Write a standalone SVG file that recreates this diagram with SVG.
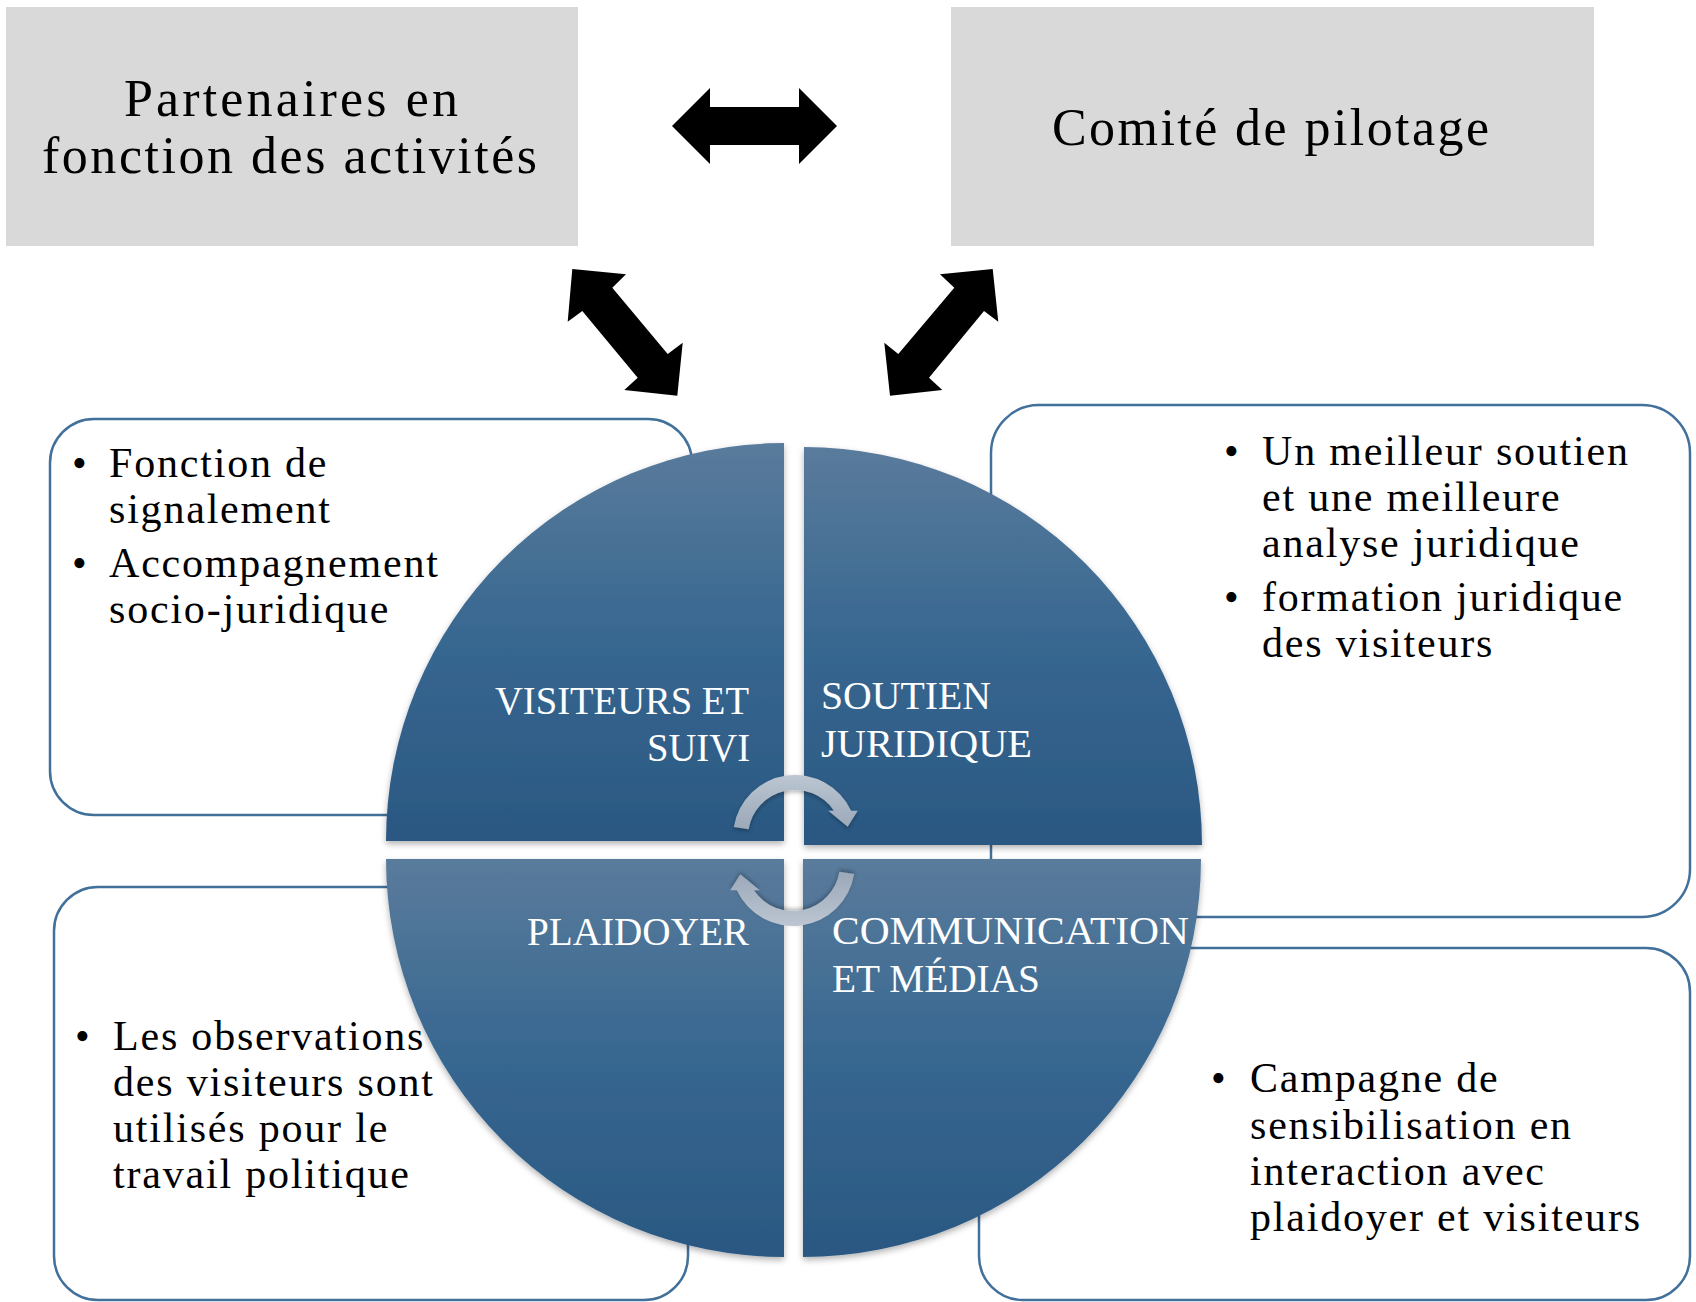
<svg xmlns="http://www.w3.org/2000/svg" width="1696" height="1302" viewBox="0 0 1696 1302">
<style>
.gray{fill:#d9d9d9}
.title{font-family:"Liberation Serif","Times New Roman",serif;font-size:52px;fill:#000}
.box{fill:#fff;stroke:#41709b;stroke-width:2.5}
.bt{font-family:"Liberation Serif","Times New Roman",serif;font-size:42px;letter-spacing:1.8px;fill:#000}
.pie{filter:url(#sh)}
.lbl{font-family:"Liberation Serif","Times New Roman",serif;font-size:40px;fill:#fff}
.arr{fill:#000}
.carr{fill:url(#cg);filter:url(#sh2)}
</style>
<defs>
<linearGradient id="qg" x1="0" y1="0" x2="0" y2="1">
<stop offset="0" stop-color="#5a7b9c"/>
<stop offset="0.5" stop-color="#376790"/>
<stop offset="1" stop-color="#2a5882"/>
</linearGradient>
<linearGradient id="cg" x1="0" y1="0" x2="0" y2="1">
<stop offset="0" stop-color="#bcc6d2"/>
<stop offset="1" stop-color="#9ba8b8"/>
</linearGradient>
<filter id="sh" x="-10%" y="-10%" width="120%" height="120%">
<feDropShadow dx="0" dy="3" stdDeviation="3" flood-color="#000" flood-opacity="0.3"/>
</filter>
<filter id="sh2" x="-20%" y="-20%" width="140%" height="140%">
<feDropShadow dx="0" dy="2" stdDeviation="2" flood-color="#000" flood-opacity="0.3"/>
</filter>
<path id="circArrow" d="M-61.17,-10.12 A62,62 0 0 1 56.15,-26.3 L62.7,-26.3 L52.7,-10.3 L33.3,-26.3 L38.95,-26.3 A47,47 0 0 0 -46.37,-7.68 Z"/>
</defs>
<rect width="1696" height="1302" fill="#fff"/>

<g id="partenaires">
<rect class="gray" x="6" y="7" width="572" height="239"/>
<text class="title" x="124" y="116" textLength="334" lengthAdjust="spacing">Partenaires en</text>
<text class="title" x="42" y="173" textLength="495" lengthAdjust="spacing">fonction des activités</text>
</g>

<g id="comite">
<rect class="gray" x="951" y="7" width="643" height="239"/>
<text class="title" x="1052" y="145" textLength="437" lengthAdjust="spacing">Comité de pilotage</text>
</g>

<g id="box-visiteurs">
<rect class="box" x="50" y="419" width="642" height="396" rx="44" ry="44"/>
<text class="bt" x="72" y="477">•</text>
<text class="bt" x="109" y="477">Fonction de</text>
<text class="bt" x="109" y="523">signalement</text>
<text class="bt" x="72" y="577">•</text>
<text class="bt" x="109" y="577">Accompagnement</text>
<text class="bt" x="109" y="623">socio-juridique</text>
</g>

<g id="box-soutien">
<rect class="box" x="991" y="405" width="699" height="512" rx="48" ry="48"/>
<text class="bt" x="1224" y="465">•</text>
<text class="bt" x="1262" y="465">Un meilleur soutien</text>
<text class="bt" x="1262" y="511">et une meilleure</text>
<text class="bt" x="1262" y="557">analyse juridique</text>
<text class="bt" x="1224" y="611">•</text>
<text class="bt" x="1262" y="611">formation juridique</text>
<text class="bt" x="1262" y="657">des visiteurs</text>
</g>

<g id="box-plaidoyer">
<rect class="box" x="54" y="887" width="634" height="413" rx="44" ry="44"/>
<text class="bt" x="75" y="1050">•</text>
<text class="bt" x="113" y="1050">Les observations</text>
<text class="bt" x="113" y="1096">des visiteurs sont</text>
<text class="bt" x="113" y="1142">utilisés pour le</text>
<text class="bt" x="113" y="1188">travail politique</text>
</g>

<g id="box-communication">
<rect class="box" x="979" y="948" width="711" height="352" rx="44" ry="44"/>
<text class="bt" x="1211" y="1092">•</text>
<text class="bt" x="1250" y="1092">Campagne de</text>
<text class="bt" x="1250" y="1139">sensibilisation en</text>
<text class="bt" x="1250" y="1185">interaction avec</text>
<text class="bt" x="1250" y="1231">plaidoyer et visiteurs</text>
</g>

<g id="connectors">
<polygon class="arr" points="672,126 710,88 710,107 799,107 799,88 837,126 799,164 799,145 710,145 710,164"/>
<polygon class="arr" points="572.3,269 626,274.3 612.3,287.7 667.7,354 682.7,342.7 677.3,395.7 624.3,390 637.7,377.7 582.3,311 567.7,321.7"/>
<polygon class="arr" points="992.7,269 940,274.3 954.3,287.7 898.3,354 884.3,342.7 890,395.7 942.3,390 929,377.7 984,311 998.3,321.7"/>
</g>

<g id="q-visiteurs">
<path class="pie" fill="url(#qg)" d="M784,841 L386,841 A398,398 0 0 1 784,443 Z"/>
<text class="lbl" x="495" y="714" textLength="254" lengthAdjust="spacingAndGlyphs">VISITEURS ET</text>
<text class="lbl" x="647" y="761" textLength="103" lengthAdjust="spacingAndGlyphs">SUIVI</text>
</g>
<g id="q-soutien">
<path class="pie" fill="url(#qg)" d="M804,845 L804,447 A398,398 0 0 1 1202,845 Z"/>
<text class="lbl" x="821" y="709" textLength="170" lengthAdjust="spacingAndGlyphs">SOUTIEN</text>
<text class="lbl" x="821" y="757" textLength="211" lengthAdjust="spacingAndGlyphs">JURIDIQUE</text>
</g>
<g id="q-plaidoyer">
<path class="pie" fill="url(#qg)" d="M784,859 L784,1257 A398,398 0 0 1 386,859 Z"/>
<text class="lbl" x="527" y="945" textLength="222" lengthAdjust="spacingAndGlyphs">PLAIDOYER</text>
</g>
<g id="q-communication">
<path class="pie" fill="url(#qg)" d="M803,859 L1201,859 A398,398 0 0 1 803,1257 Z"/>
<text class="lbl" x="832" y="944" textLength="357" lengthAdjust="spacingAndGlyphs">COMMUNICATION</text>
<text class="lbl" x="832" y="992" textLength="208" lengthAdjust="spacingAndGlyphs">ET MÉDIAS</text>
</g>

<g id="cycle-arrows">
<use href="#circArrow" class="carr" transform="translate(795,837)"/>
<use href="#circArrow" class="carr" transform="translate(793,864) rotate(180)"/>
</g>
</svg>
